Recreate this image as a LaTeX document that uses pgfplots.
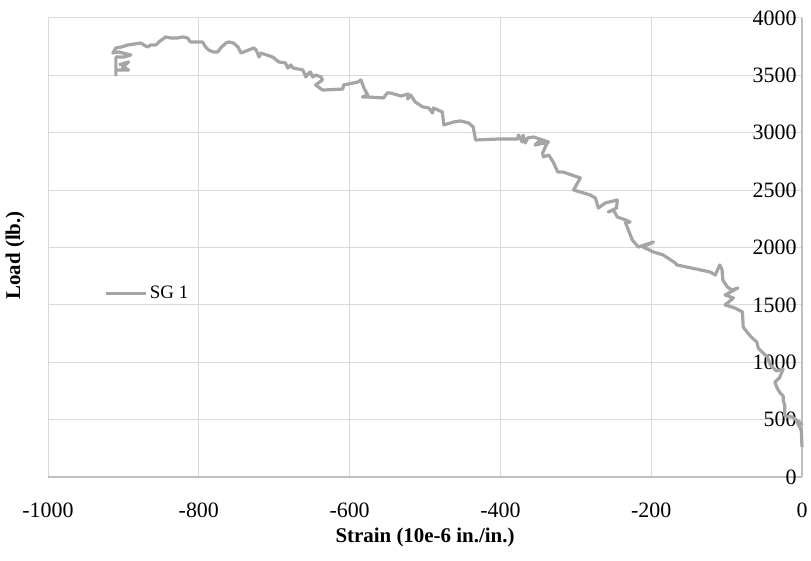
\documentclass[border=0pt]{standalone}
\usepackage{pgfplots}
\pgfplotsset{compat=1.18}
\usepackage{fontspec}
\setmainfont{Liberation Serif}
\definecolor{sgline}{HTML}{A5A5A5}
\definecolor{gridc}{HTML}{D9D9D9}
\definecolor{axc}{HTML}{BFBFBF}
\begin{document}
\begin{tikzpicture}
\begin{axis}[
  scale only axis,
  width=754bp, height=459bp,
  xmin=-1000, xmax=0, ymin=0, ymax=4000,
  xtick={-1000,-800,-600,-400,-200,0},
  ytick={0,500,1000,1500,2000,2500,3000,3500,4000},
  axis x line*=bottom, axis y line*=right,
  axis line style={axc, line width=1.2bp, -},
  grid=major,
  major grid style={gridc, line width=1bp},
  major tick length=0pt,
  /pgf/number format/assume math mode=true,
  /pgf/number format/1000 sep={},
  tick label style={font=\fontsize{22}{25}\selectfont},
  yticklabel pos=right,
  yticklabel style={anchor=east, xshift=-2bp},
  xticklabel style={yshift=-22bp},
  xlabel={\textbf{Strain (10e-6 in./in.)}},
  ylabel={\textbf{Load (lb.)}},
  xlabel style={font=\fontsize{21}{24}\selectfont, yshift=-4bp},
  every axis y label/.style={at={(rel axis cs:0,0.5)}, rotate=90, anchor=center, yshift=33bp, xshift=-8bp, font=\fontsize{21}{24}\selectfont},
  legend style={at={(rel axis cs:0.075,0.40)}, anchor=west, draw=none, fill=none, font=\fontsize{19}{22}\selectfont, inner sep=0pt},
  legend image code/.code={\draw[#1] (0cm,0cm) -- (40bp,0cm);},
  clip=false,
]
\addplot[sgline, line width=3.2bp, line join=round] coordinates {
(0,261) (-1,410) (-8,497) (0,462) (-13,523) (-23,532) (-23,627) (-25,671) (-25,706) (-29,732)
(-33,776) (-36,828) (-30,863) (-25,941) (-34,924) (-42,976) (-46,1046) (-53,1089) (-58,1124)
(-60,1177) (-66,1211) (-72,1255) (-78,1307) (-79,1438) (-89,1473) (-102,1499) (-91,1560)
(-102,1586) (-85,1647) (-93,1630) (-99,1656) (-105,1717) (-106,1804) (-109,1848) (-111,1821)
(-115,1760) (-122,1787) (-166,1848) (-168,1865) (-184,1935) (-197,1961) (-211,2004) (-197,2048)
(-217,2004) (-225,2065) (-234,2214) (-228,2222) (-234,2240) (-245,2266) (-250,2327) (-257,2309)
(-246,2344) (-245,2414) (-261,2388) (-270,2344) (-274,2431) (-281,2458) (-303,2501) (-294,2606)
(-298,2615) (-317,2658) (-324,2658) (-330,2745) (-336,2806) (-343,2789) (-344,2824) (-338,2911)
(-347,2937) (-354,2893) (-336,2919) (-356,2963) (-364,2954) (-367,2911) (-370,2980) (-371,2919)
(-376,2980) (-377,2946) (-400,2946) (-433,2937) (-436,3050) (-442,3085) (-453,3103) (-462,3094)
(-475,3068) (-477,3181) (-489,3216) (-490,3172) (-495,3216) (-503,3225) (-513,3268) (-519,3329)
(-523,3294) (-522,3338) (-532,3320) (-546,3347) (-550,3347) (-555,3303) (-576,3312) (-583,3312)
(-576,3329) (-581,3390) (-585,3460) (-589,3442) (-608,3416) (-609,3381) (-632,3373) (-636,3373)
(-645,3416) (-636,3460) (-638,3486) (-645,3503) (-649,3486) (-652,3530) (-654,3521) (-658,3486)
(-662,3547) (-675,3564) (-678,3591) (-682,3564) (-685,3608) (-694,3617) (-702,3660) (-718,3695)
(-720,3660) (-724,3721) (-727,3739) (-744,3695) (-748,3747) (-754,3782) (-760,3791) (-764,3782)
(-771,3739) (-775,3704) (-781,3704) (-787,3721) (-791,3747) (-795,3791) (-801,3791) (-811,3791)
(-815,3826) (-821,3835) (-828,3826) (-837,3826) (-844,3835) (-853,3791) (-857,3765) (-864,3765)
(-868,3747) (-873,3765) (-877,3782) (-886,3773) (-894,3765) (-903,3747) (-910,3739) (-914,3695)
(-906,3704) (-901,3695) (-890,3678) (-899,3660) (-910,3660) (-910,3503) (-910,3547) (-893,3547)
(-901,3573) (-893,3617) (-906,3591)
};
\addlegendentry{SG 1}
\end{axis}
\path (current axis.south west) ++(-48bp,-84bp) rectangle ++(811bp,561bp);
\end{tikzpicture}
\end{document}
